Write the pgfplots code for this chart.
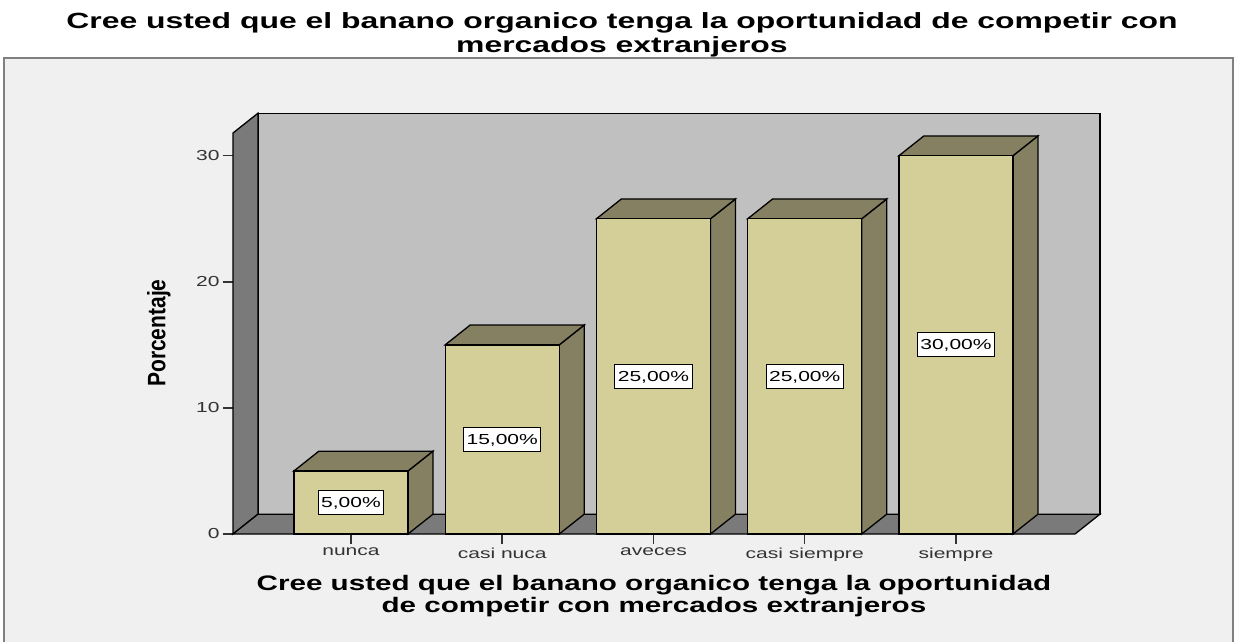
\documentclass[border=0pt]{standalone}
\usepackage{pgfplots}
\pgfplotsset{compat=1.18}
\usepackage{fontspec}
\setmainfont{Liberation Sans}
\usepackage{graphicx}
\definecolor{bgc}{HTML}{F0F0F0}
\definecolor{backc}{HTML}{C0C0C0}
\definecolor{wallc}{HTML}{7A7A7A}
\definecolor{frontc}{HTML}{D4CF99}
\definecolor{sidec}{HTML}{848061}
\definecolor{framec}{HTML}{808080}
\definecolor{tlc}{HTML}{333333}
\newcommand{\sx}[1]{\scalebox{1.45}[1]{#1}}
\begin{document}
\begin{tikzpicture}[x=1pt,y=1pt]
\useasboundingbox (0,0) rectangle (1235,641);
\fill[white] (0,0) rectangle (1235,641);
\filldraw[fill=bgc, draw=framec, line width=1.5pt] (4,-5) rectangle (1233,583);
\node[anchor=base, inner sep=0, font=\fontsize{22}{24}\selectfont\bfseries] at (622,612)
  {\scalebox{1.45}[1]{\begin{tabular}[t]{@{}c@{}}Cree usted que el banano organico tenga la oportunidad de competir con\\ mercados extranjeros\end{tabular}}};
\begin{axis}[
  at={(233pt,107pt)}, anchor=south west,
  width=842pt, height=401pt, scale only axis,
  xmin=-0.78, xmax=4.787, ymin=0, ymax=31.8,
  clip=false,
  axis x line*=bottom, axis y line*=left,
  axis line style={draw=none},
  tick align=outside, major tick length=10pt,
  tick style={draw=tlc, line width=1.5pt},
  xtick={0,1,2,3,4},
  xticklabels={\sx{nunca},\sx{casi nuca},\sx{aveces},\sx{casi siempre},\sx{siempre}},
  ytick={0,10,20,30},
  yticklabels={\sx{0},\sx{10},\sx{20},\sx{30}},
  ticklabel style={font=\fontsize{14.5}{17}\selectfont, text=tlc},
  xlabel={\scalebox{1.41}[1]{\begin{tabular}[t]{@{}c@{}}Cree usted que el banano organico tenga la oportunidad\\ de competir con mercados extranjeros\end{tabular}}},
  xlabel style={at={(axis description cs:0.5,0)}, anchor=base, yshift=-56pt, inner sep=0pt,
    font=\fontsize{21}{22.5}\selectfont\bfseries},
  ylabel={\scalebox{1}[1.2]{Porcentaje}},
  ylabel style={at={(axis description cs:-0.0879,0.501)}, anchor=center, inner sep=0pt,
    font=\fontsize{21}{22}\selectfont\bfseries},
]
% walls
\addplot[fill=backc, draw=black, line width=1.3pt] coordinates {(-0.615,1.57) (4.952,1.57) (4.952,33.37) (-0.615,33.37)} --cycle;
\addplot[fill=wallc, draw=black, line width=1.3pt] coordinates {(-0.78,0) (-0.615,1.57) (-0.615,33.37) (-0.78,31.8)} --cycle;
\addplot[fill=wallc, draw=black, line width=1.3pt] coordinates {(-0.78,0) (4.787,0) (4.952,1.57) (-0.615,1.57)} --cycle;
% bar sides
\addplot[fill=sidec, draw=black, line width=1.3pt] coordinates {(0.377,0) (0.542,1.57) (0.542,6.57) (0.377,5)} --cycle;
\addplot[fill=sidec, draw=black, line width=1.3pt] coordinates {(1.377,0) (1.542,1.57) (1.542,16.57) (1.377,15)} --cycle;
\addplot[fill=sidec, draw=black, line width=1.3pt] coordinates {(2.377,0) (2.542,1.57) (2.542,26.57) (2.377,25)} --cycle;
\addplot[fill=sidec, draw=black, line width=1.3pt] coordinates {(3.377,0) (3.542,1.57) (3.542,26.57) (3.377,25)} --cycle;
\addplot[fill=sidec, draw=black, line width=1.3pt] coordinates {(4.377,0) (4.542,1.57) (4.542,31.57) (4.377,30)} --cycle;
% bar tops
\addplot[fill=sidec, draw=black, line width=1.3pt] coordinates {(-0.377,5) (-0.212,6.57) (0.542,6.57) (0.377,5)} --cycle;
\addplot[fill=sidec, draw=black, line width=1.3pt] coordinates {(0.623,15) (0.788,16.57) (1.542,16.57) (1.377,15)} --cycle;
\addplot[fill=sidec, draw=black, line width=1.3pt] coordinates {(1.623,25) (1.788,26.57) (2.542,26.57) (2.377,25)} --cycle;
\addplot[fill=sidec, draw=black, line width=1.3pt] coordinates {(2.623,25) (2.788,26.57) (3.542,26.57) (3.377,25)} --cycle;
\addplot[fill=sidec, draw=black, line width=1.3pt] coordinates {(3.623,30) (3.788,31.57) (4.542,31.57) (4.377,30)} --cycle;
% bar fronts
\addplot[ybar, bar width=114pt, fill=frontc, draw=black, line width=1.3pt] coordinates {(0,5) (1,15) (2,25) (3,25) (4,30)};
% value labels
\addplot[draw=none, mark=none, nodes near coords={\sx{\pgfplotspointmeta}}, point meta=explicit symbolic,
  nodes near coords style={anchor=center, draw=black, fill=white, line width=1pt, inner xsep=3pt, inner ysep=7pt,
    text height=10pt, text depth=0pt, font=\fontsize{14.5}{17}\selectfont}]
  coordinates {(0,2.5)[5,00\%] (1,7.5)[15,00\%] (2,12.5)[25,00\%] (3,12.5)[25,00\%] (4,15)[30,00\%]};
\end{axis}
\end{tikzpicture}
\end{document}
